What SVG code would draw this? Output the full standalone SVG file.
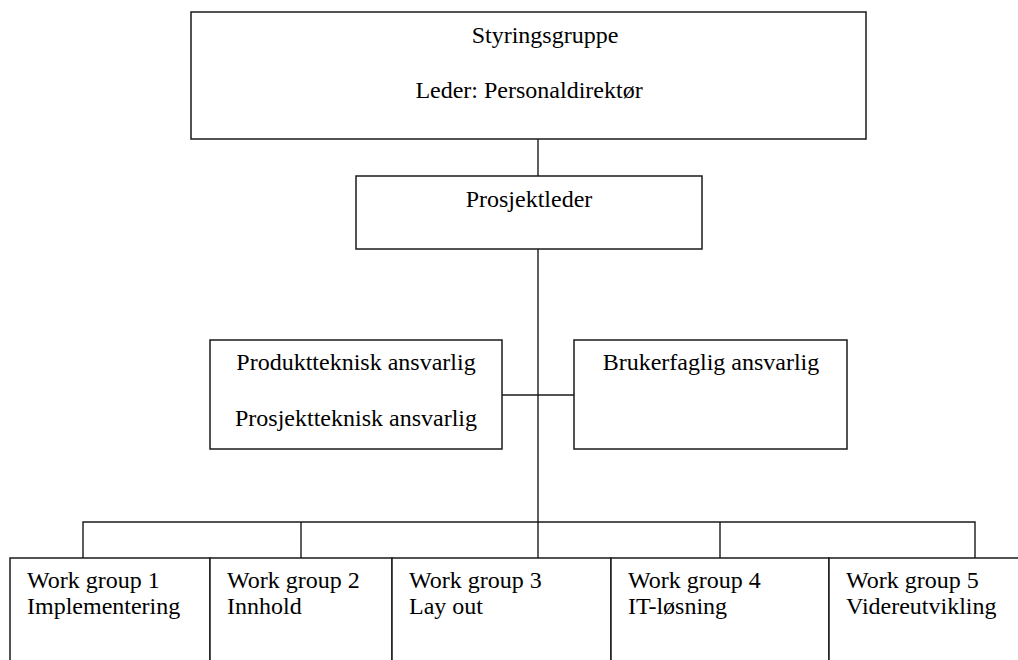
<svg xmlns="http://www.w3.org/2000/svg" width="1018" height="660" viewBox="0 0 1018 660">
<style>
.box{fill:#fff;stroke:#1a1a1a;stroke-width:1.5}
.ln{fill:none;stroke:#1a1a1a;stroke-width:1.4}
text{font-family:"Liberation Serif","Times New Roman",serif;font-size:24px;fill:#000}
.c{text-anchor:middle}
</style>
<rect width="1018" height="660" fill="#fff"/>
<g id="connectors">
<line class="ln" x1="538" y1="139" x2="538" y2="176"/>
<line class="ln" x1="538" y1="249" x2="538" y2="558"/>
<line class="ln" x1="502" y1="395" x2="574" y2="395"/>
<polyline class="ln" points="83,558 83,522 975,522 975,558"/>
<line class="ln" x1="301" y1="522" x2="301" y2="558"/>
<line class="ln" x1="720" y1="522" x2="720" y2="558"/>
</g>
<g id="styringsgruppe">
<rect class="box" x="191" y="12" width="675" height="127"/>
<text x="545" y="43" class="c">Styringsgruppe</text>
<text x="529" y="98" class="c">Leder: Personaldirektør</text>
</g>
<g id="prosjektleder">
<rect class="box" x="356" y="176" width="346" height="73"/>
<text x="529" y="207" class="c">Prosjektleder</text>
</g>
<g id="teknisk">
<rect class="box" x="210" y="340" width="292" height="109"/>
<text x="356" y="370" class="c">Produktteknisk ansvarlig</text>
<text x="356" y="426" class="c">Prosjektteknisk ansvarlig</text>
</g>
<g id="brukerfaglig">
<rect class="box" x="574" y="340" width="273" height="109"/>
<text x="711" y="370" class="c">Brukerfaglig ansvarlig</text>
</g>
<g id="wg1">
<rect class="box" x="10" y="558" width="200" height="120"/>
<text x="27" y="588">Work group 1</text>
<text x="27" y="614">Implementering</text>
</g>
<g id="wg2">
<rect class="box" x="210" y="558" width="182" height="120"/>
<text x="227" y="588">Work group 2</text>
<text x="227" y="614">Innhold</text>
</g>
<g id="wg3">
<rect class="box" x="392" y="558" width="219" height="120"/>
<text x="409" y="588">Work group 3</text>
<text x="409" y="614">Lay out</text>
</g>
<g id="wg4">
<rect class="box" x="611" y="558" width="218" height="120"/>
<text x="628" y="588">Work group 4</text>
<text x="628" y="614">IT-løsning</text>
</g>
<g id="wg5">
<rect class="box" x="829" y="558" width="200" height="120"/>
<text x="846" y="588">Work group 5</text>
<text x="846" y="614">Videreutvikling</text>
</g>
</svg>
